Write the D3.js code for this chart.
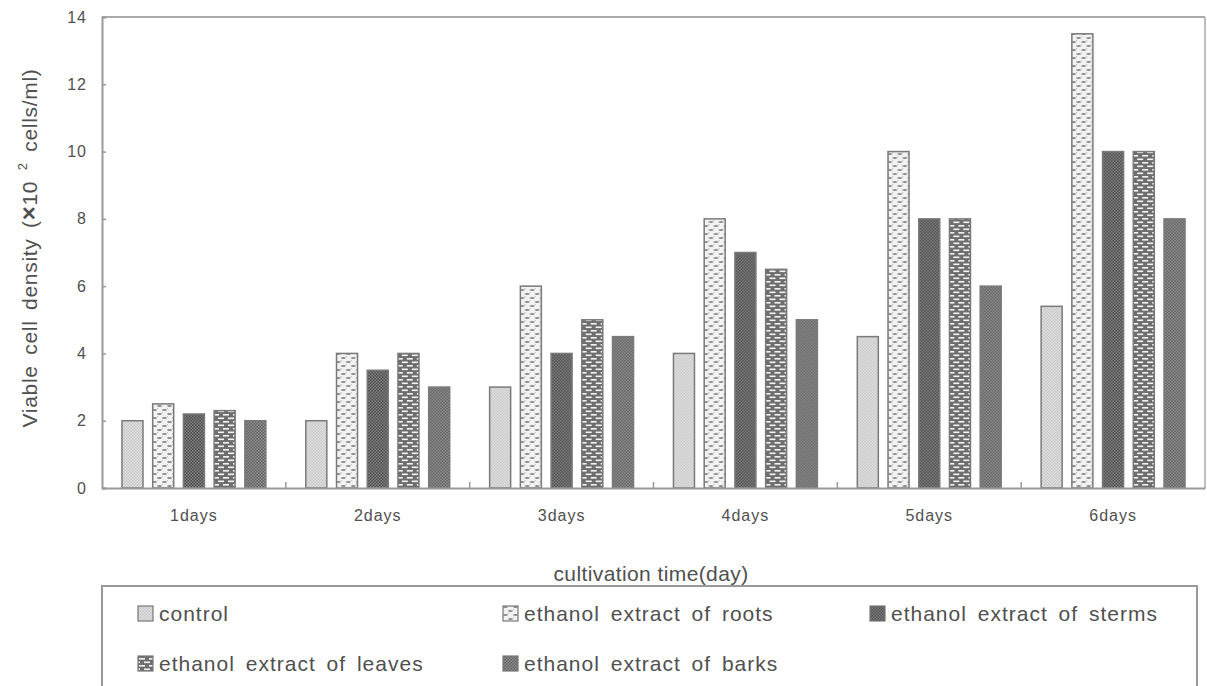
<!DOCTYPE html>
<html>
<head>
<meta charset="utf-8">
<script src="https://cdn.jsdelivr.net/npm/d3@7"></script>
<style>
  html, body { margin: 0; padding: 0; background: #fff; }
  svg { display: block; }
  text { font-family: "Liberation Sans", Arial, sans-serif; fill: #505050; }
</style>
</head>
<body>
<svg id="chart" width="1207" height="686"></svg>
<script>
// ---------------- data ----------------
const days = ["1days", "2days", "3days", "4days", "5days", "6days"];
const seriesNames = [
  "control",
  "ethanol extract of roots",
  "ethanol extract of sterms",
  "ethanol extract of leaves",
  "ethanol extract of barks"
];
const control = [2, 2, 3, 4, 4.5, 5.4];
const roots   = [2.5, 4, 6, 8, 10, 13.5];
const sterms  = [2.2, 3.5, 4, 7, 8, 10];
const leaves  = [2.3, 4, 5, 6.5, 8, 10];
const barks   = [2, 3, 4.5, 5, 6, 8];
const seriesValues = [control, roots, sterms, leaves, barks];
const yTicks = [0, 2, 4, 6, 8, 10, 12, 14];
const xTitle = "cultivation time(day)";

(function draw() {
// ---------------- layout ----------------
const svg = d3.select("#chart");
const W = 1207, H = 686;
const pLeft = 102, pRight = 1205, pTop = 17, pBottom = 488;

svg.append("rect").attr("width", W).attr("height", H).attr("fill", "#fff");

// ---------------- patterns ----------------
const defs = svg.append("defs");
function checker(id, bg, dot, size) {
  const p = defs.append("pattern").attr("id", id).attr("patternUnits", "userSpaceOnUse")
    .attr("width", size * 2).attr("height", size * 2);
  p.append("rect").attr("width", size * 2).attr("height", size * 2).attr("fill", bg);
  p.append("rect").attr("x", 0).attr("y", 0).attr("width", size).attr("height", size).attr("fill", dot);
  p.append("rect").attr("x", size).attr("y", size).attr("width", size).attr("height", size).attr("fill", dot);
}
checker("pat0", "#e4e4e4", "#c4c4c4", 1.5);
checker("pat2", "#4a4a4a", "#858585", 1.5);
checker("pat4", "#626262", "#909090", 1.5);
{ // roots: light with oval dashes
  const p = defs.append("pattern").attr("id", "pat1").attr("patternUnits", "userSpaceOnUse")
    .attr("width", 10).attr("height", 8);
  p.append("rect").attr("width", 10).attr("height", 8).attr("fill", "#f2f2f2");
  p.append("ellipse").attr("cx", 2.5).attr("cy", 2).attr("rx", 2.4).attr("ry", 1.1).attr("fill", "#8a8a8a");
  p.append("ellipse").attr("cx", 7.5).attr("cy", 6).attr("rx", 2.4).attr("ry", 1.1).attr("fill", "#8a8a8a");
  p.append("rect").attr("x", 5).attr("y", 0).attr("width", 1).attr("height", 1).attr("fill", "#bbb");
  p.append("rect").attr("x", 0).attr("y", 4).attr("width", 1).attr("height", 1).attr("fill", "#bbb");
}
{ // leaves: brick
  const p = defs.append("pattern").attr("id", "pat3").attr("patternUnits", "userSpaceOnUse")
    .attr("width", 10).attr("height", 7);
  p.append("rect").attr("width", 10).attr("height", 7).attr("fill", "#6e6e6e");
  p.append("rect").attr("x", 1).attr("y", 1).attr("width", 6).attr("height", 1.6).attr("fill", "#f4f4f4");
  p.append("rect").attr("x", 6).attr("y", 4.5).attr("width", 6).attr("height", 1.6).attr("fill", "#f4f4f4");
  p.append("rect").attr("x", -4).attr("y", 4.5).attr("width", 6).attr("height", 1.6).attr("fill", "#f4f4f4");
}
const fills = ["url(#pat0)", "url(#pat1)", "url(#pat2)", "url(#pat3)", "url(#pat4)"];

// ---------------- scales ----------------
const x0 = d3.scaleBand().domain(days).range([pLeft, pRight]).padding(0);
const x1 = d3.scaleBand().domain(d3.range(seriesNames.length))
  .range([0, x0.bandwidth()]).paddingInner(0.316).paddingOuter(0.65);
const y = d3.scaleLinear().domain([0, 14]).range([pBottom, pTop]);

// ---------------- bars ----------------
const groups = svg.append("g").selectAll("g").data(days).join("g")
  .attr("transform", d => `translate(${x0(d)},0)`);
groups.selectAll("rect")
  .data((d, i) => seriesValues.map((vals, s) => ({ s, v: vals[i] })))
  .join("rect")
  .attr("x", d => x1(d.s))
  .attr("y", d => y(d.v))
  .attr("width", x1.bandwidth())
  .attr("height", d => y(0) - y(d.v))
  .attr("fill", d => fills[d.s])
  .attr("stroke", "#7a7a7a")
  .attr("stroke-width", 1.5);

// ---------------- frame / axes ----------------
const lineColor = "#999";
svg.append("line").attr("x1", pLeft).attr("x2", pRight).attr("y1", pTop).attr("y2", pTop)
  .attr("stroke", "#aaa").attr("stroke-width", 2);
svg.append("line").attr("x1", pRight).attr("x2", pRight).attr("y1", pTop).attr("y2", pBottom)
  .attr("stroke", "#aaa").attr("stroke-width", 1.5);

const yAxis = svg.append("g").attr("transform", `translate(${pLeft},0)`)
  .call(d3.axisLeft(y).tickValues(yTicks).tickSize(-4).tickPadding(15).tickFormat(d3.format("d")));
yAxis.select(".domain").attr("stroke", lineColor).attr("stroke-width", 2);
yAxis.selectAll(".tick line").attr("stroke", lineColor).attr("stroke-width", 1.5);
yAxis.selectAll(".tick text").style("font-size", "16px").attr("fill", "#505050")
  .style("letter-spacing", "1px")
  .style("font-family", "'Liberation Sans', Arial, sans-serif");

const xAxis = svg.append("g").attr("transform", `translate(0,${pBottom})`)
  .call(d3.axisBottom(x0).tickSize(0).tickPadding(22));
xAxis.select(".domain").attr("stroke", lineColor).attr("stroke-width", 2);
xAxis.selectAll(".tick text").style("font-size", "16px").attr("fill", "#505050")
  .style("font-family", "'Liberation Sans', Arial, sans-serif")
  .style("letter-spacing", "1px");

// boundary ticks pointing up
const boundaries = days.slice(1).map(d => x0(d));
svg.append("g").selectAll("line").data(boundaries).join("line")
  .attr("x1", d => d).attr("x2", d => d).attr("y1", pBottom).attr("y2", pBottom - 6)
  .attr("stroke", lineColor).attr("stroke-width", 1.5);

// axis titles
svg.append("text").attr("x", 651).attr("y", 581).attr("text-anchor", "middle")
  .style("font-size", "21px").style("letter-spacing", "0.4px").text(xTitle);

const yt = svg.append("text").attr("transform", "translate(37,248) rotate(-90)")
  .attr("text-anchor", "middle").style("font-size", "21px")
  .style("word-spacing", "4px").style("letter-spacing", "0.7px");
yt.append("tspan").text("Viable cell density (");
yt.append("tspan").style("font-weight", "bold").style("font-size", "24px").text("\u00d7");
yt.append("tspan").text("10 ");
yt.append("tspan").attr("dy", -10).style("font-size", "13px").text("2");
yt.append("tspan").attr("dy", 10).text(" cells/ml)");

// ---------------- legend ----------------
svg.append("rect").attr("x", 102).attr("y", 586).attr("width", 1095).attr("height", 130)
  .attr("fill", "none").attr("stroke", "#999").attr("stroke-width", 2);
const legendCols = [138, 503, 870];
const legendRows = [621, 671];
const leg = svg.append("g").selectAll("g").data(seriesNames).join("g")
  .attr("transform", (d, i) => `translate(${legendCols[i % 3]},${legendRows[Math.floor(i / 3)]})`);
leg.append("rect").attr("x", 0).attr("y", -15).attr("width", 15).attr("height", 15)
  .attr("fill", (d, i) => fills[i]).attr("stroke", "#777").attr("stroke-width", 1.2);
leg.append("text").attr("x", 21).attr("y", 0)
  .style("font-size", "21px").style("word-spacing", "4px").style("letter-spacing", "1px")
  .text(d => d);
})();
</script>
</body>
</html>
